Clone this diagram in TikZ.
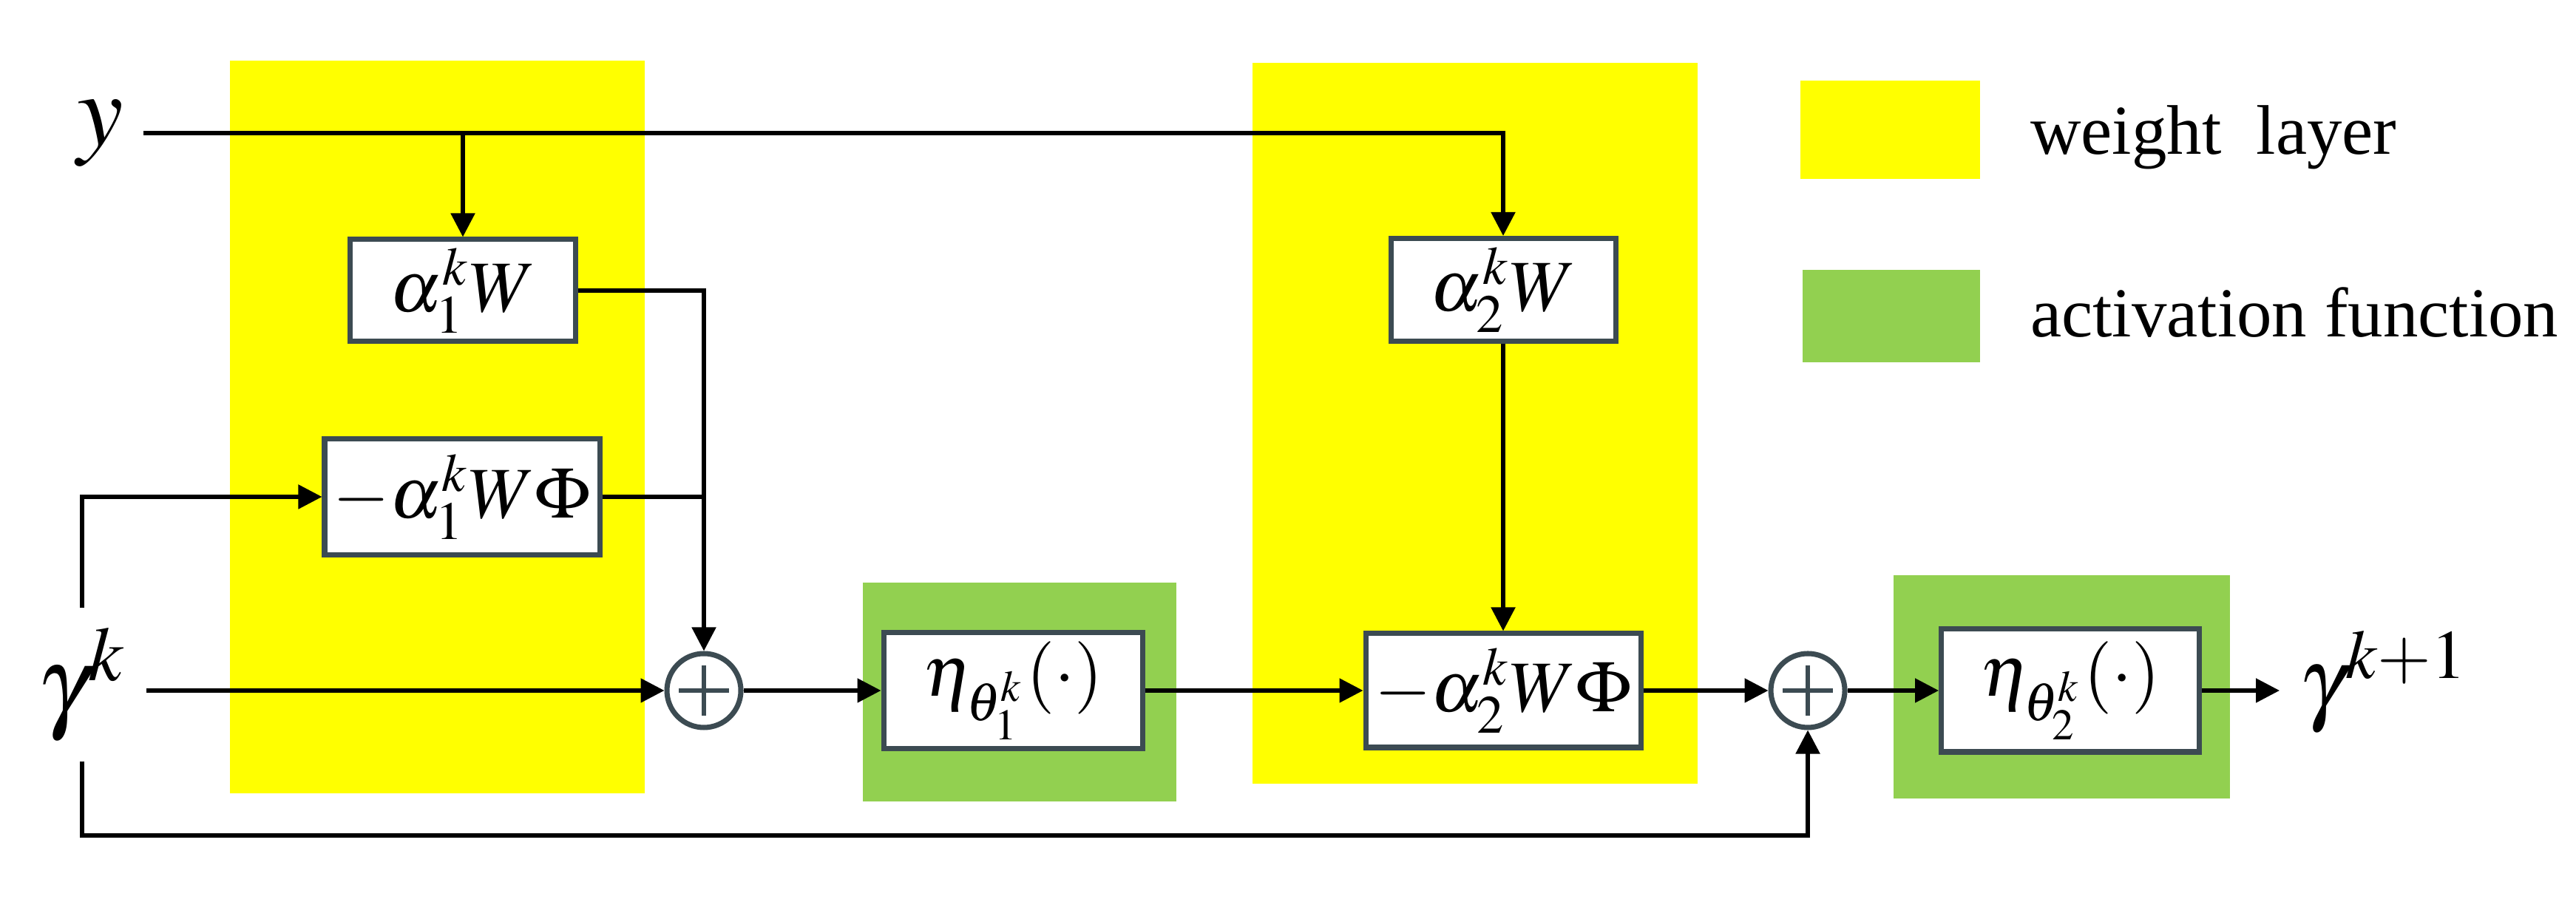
\documentclass[tikz,border=0pt]{standalone}
\usepackage{mathptmx}
\usepackage{fontspec}
\setmainfont{Liberation Serif}
\usetikzlibrary{arrows.meta}
\definecolor{actgreen}{RGB}{146,208,80}
\definecolor{boxline}{RGB}{60,75,82}
\definecolor{wyellow}{RGB}{255,255,0}
\tikzset{
  blk/.style={draw=boxline,fill=white,line width=1pt,inner sep=0pt,font=\fontsize{14}{16}\selectfont},
  sumnode/.style={draw=boxline,fill=white,circle,line width=1pt,minimum size=0.5cm,inner sep=0pt,
    path picture={\draw[line width=0.9pt] ([yshift=-0.8mm]path picture bounding box.north) -- ([yshift=0.8mm]path picture bounding box.south);
      \draw[line width=0.9pt] ([xshift=0.8mm]path picture bounding box.west) -- ([xshift=-0.8mm]path picture bounding box.east);}},
  biglabel/.style={inner sep=1.2mm,font=\fontsize{20}{24}\selectfont}
}
\begin{document}
\begin{tikzpicture}[>={Triangle[length=1.6mm,width=1.6mm]},line width=0.75pt]
  \useasboundingbox (0,0) rectangle (17.42,6.10);
  \fill[wyellow] (1.555,0.735) rectangle (4.36,5.69);
  \fill[wyellow] (8.47,0.80) rectangle (11.48,5.675);
  \fill[actgreen] (5.835,0.68) rectangle (7.955,2.16);
  \fill[actgreen] (12.805,0.70) rectangle (15.08,2.21);
  \fill[wyellow] (12.175,4.89) rectangle (13.39,5.555);
  \fill[actgreen] (12.19,3.65) rectangle (13.39,4.275);
  \node[anchor=base west,font=\fontsize{13.5}{16}\selectfont] (lw) at (13.6,5.055) {weight\ \ layer};
  \node[anchor=base west,font=\fontsize{13.5}{16}\selectfont] (la) at (13.6,3.82) {activation function};
  \begin{scope}[every node/.style={blk}]
  \node[minimum width=1.525cm,minimum height=0.69cm] (a1) at (3.13,4.135) {$\alpha_1^k W$};
  \node[minimum width=1.86cm,minimum height=0.785cm] (ma1) at (3.125,2.74) {$-\alpha_1^k W\Phi$};
  \node[minimum width=1.75cm,minimum height=0.785cm] (e1) at (6.85,1.43) {$\eta_{\theta_1^k}(\cdot)$};
  \node[minimum width=1.52cm,minimum height=0.695cm] (a2) at (10.165,4.14) {$\alpha_2^k W$};
  \node[minimum width=1.86cm,minimum height=0.77cm] (ma2) at (10.165,1.43) {$-\alpha_2^k W\Phi$};
  \node[minimum width=1.745cm,minimum height=0.83cm] (e2) at (14.0,1.43) {$\eta_{\theta_2^k}(\cdot)$};
  \end{scope}
  \node[sumnode] (s1) at (4.76,1.43) {};
  \node[sumnode] (s2) at (12.225,1.43) {};
  \node[biglabel] (y) at (0.68,5.2) {$y$};
  \node[biglabel] (gk) at (0.555,1.47) {$\gamma^k$};
  \node[biglabel,font=\fontsize{18}{22}\selectfont] (gk1) at (16.12,1.485) {$\gamma^{k+1}$};
  \coordinate (bl) at (0.555,0.45);
  \draw[->] (y.east) -| (a2.north);
  \draw[->] (a1.north |- y.east) -- (a1.north);
  \draw[->] (a1.east) -| (s1.north);
  \draw (ma1.east) -- (ma1.east -| s1.north);
  \draw[->] (gk.north) |- (ma1.west);
  \draw[->] (gk.east |- s1.west) -- (s1.west);
  \draw[->] (gk.south) -- (bl) -| (s2.south);
  \draw[->] (s1) -- (e1);
  \draw[->] (e1) -- (ma2);
  \draw[->] (a2) -- (ma2);
  \draw[->] (ma2) -- (s2);
  \draw[->] (s2) -- (e2);
  \draw[->] (e2) -- (gk1.west |- e2.east);
\end{tikzpicture}
\end{document}
